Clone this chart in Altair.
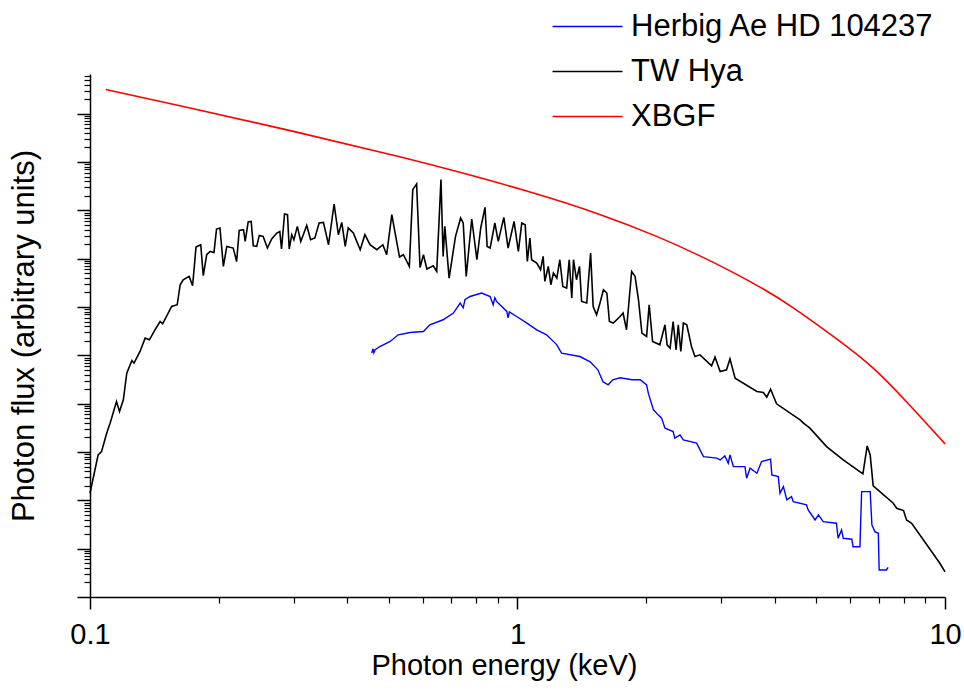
import altair as alt
import pandas as pd

# Spectra are tabulated as log10(photon energy / keV) and log10(photon flux, arbitrary units)

# TW Hya
tw_log_e = [
    -1.000, -0.981, -0.973, -0.961, -0.953, -0.938, -0.931, -0.922, -0.914, -0.902,
    -0.897, -0.883, -0.871, -0.861, -0.848, -0.836, -0.830, -0.809, -0.796, -0.789,
    -0.782, -0.768, -0.760, -0.752, -0.741, -0.735, -0.727, -0.719, -0.710, -0.704,
    -0.696, -0.688, -0.680, -0.665, -0.657, -0.651, -0.641, -0.637, -0.630, -0.623,
    -0.618, -0.610, -0.604, -0.595, -0.585, -0.575, -0.563, -0.556, -0.552, -0.545,
    -0.538, -0.534, -0.528, -0.523, -0.515, -0.507, -0.493, -0.484, -0.474, -0.464,
    -0.454, -0.442, -0.429, -0.419, -0.411, -0.403, -0.396, -0.384, -0.376, -0.368,
    -0.357, -0.345, -0.329, -0.315, -0.306, -0.294, -0.287, -0.276, -0.267, -0.253,
    -0.245, -0.236, -0.228, -0.220, -0.212, -0.197, -0.189, -0.179, -0.174, -0.170,
    -0.160, -0.145, -0.133, -0.127, -0.120, -0.107, -0.095, -0.086, -0.076, -0.071,
    -0.064, -0.053, -0.045, -0.032, -0.022, -0.008, 0.002, 0.010, 0.018, 0.023,
    0.029, 0.033, 0.045, 0.054, 0.060, 0.064, 0.072, 0.078, 0.084, 0.092,
    0.099, 0.106, 0.115, 0.121, 0.127, 0.131, 0.138, 0.145, 0.150, 0.162,
    0.171, 0.177, 0.185, 0.193, 0.201, 0.209, 0.215, 0.224, 0.240, 0.247,
    0.255, 0.267, 0.275, 0.283, 0.291, 0.302, 0.308, 0.316, 0.333, 0.345,
    0.350, 0.357, 0.364, 0.371, 0.376, 0.382, 0.388, 0.396, 0.407, 0.415,
    0.427, 0.454, 0.462, 0.474, 0.489, 0.497, 0.509, 0.560, 0.575, 0.583,
    0.592, 0.606, 0.661, 0.669, 0.684, 0.723, 0.762, 0.808, 0.818, 0.825,
    0.832, 0.879, 0.887, 0.903, 0.910, 0.922, 0.988, 1.000,
]
tw_log_f = [
    2.147, 2.940, 3.008, 3.389, 3.596, 4.043, 3.836, 4.079, 4.631, 4.892,
    4.838, 5.079, 5.356, 5.321, 5.528, 5.700, 5.652, 6.010, 6.046, 6.460,
    6.563, 6.632, 6.439, 7.240, 7.288, 6.646, 7.081, 7.149, 7.128, 7.613,
    7.634, 6.839, 7.253, 7.219, 6.942, 7.584, 7.598, 7.356, 7.758, 7.770,
    7.267, 7.253, 7.480, 7.460, 7.219, 7.406, 7.530, 7.563, 7.199, 7.923,
    7.909, 7.199, 7.495, 7.391, 7.667, 7.356, 7.687, 7.391, 7.427, 7.737,
    7.750, 7.288, 8.130, 7.495, 7.750, 7.253, 7.634, 7.530, 7.356, 7.184,
    7.495, 7.288, 7.184, 7.288, 7.081, 7.909, 7.563, 7.033, 7.081, 6.839,
    8.427, 8.545, 6.818, 7.081, 6.785, 6.853, 6.735, 8.634, 7.046, 7.667,
    6.598, 7.460, 7.841, 7.737, 6.632, 7.820, 6.977, 7.634, 8.060, 7.253,
    7.219, 7.737, 7.356, 7.853, 7.219, 7.770, 7.149, 7.737, 7.702, 6.942,
    7.427, 6.977, 6.909, 6.770, 7.046, 6.528, 6.839, 6.460, 6.702, 6.598,
    6.977, 6.424, 6.391, 6.977, 6.184, 6.977, 6.563, 6.839, 6.114, 6.081,
    7.116, 6.010, 5.839, 6.081, 6.356, 6.288, 5.700, 5.667, 5.803, 5.874,
    5.528, 6.735, 6.632, 6.149, 5.460, 5.389, 6.046, 5.286, 5.217, 5.631,
    5.217, 5.149, 5.700, 5.114, 5.631, 5.079, 5.667, 5.631, 5.182, 4.975,
    5.010, 4.783, 4.963, 4.665, 4.700, 4.928, 4.528, 4.251, 4.230, 4.135,
    4.300, 3.996, 3.665, 3.596, 3.493, 3.112, 2.836, 2.547, 3.126, 2.940,
    2.298, 1.940, 1.836, 1.787, 1.594, 1.526, 0.698, 0.518,
]

# Herbig Ae HD 104237
hb_log_e = [
    -0.341, -0.338, -0.336, -0.333, -0.322, -0.298, -0.279, -0.251, -0.220, -0.205,
    -0.174, -0.150, -0.134, -0.127, -0.123, -0.111, -0.084, -0.064, -0.057, -0.053,
    -0.049, -0.025, -0.022, -0.019, -0.002, 0.022, 0.045, 0.068, 0.092, 0.103,
    0.146, 0.170, 0.188, 0.200, 0.212, 0.223, 0.240, 0.268, 0.287, 0.302,
    0.306, 0.318, 0.329, 0.337, 0.345, 0.364, 0.368, 0.380, 0.388, 0.419,
    0.435, 0.466, 0.474, 0.485, 0.493, 0.497, 0.505, 0.532, 0.536, 0.544,
    0.560, 0.571, 0.592, 0.595, 0.610, 0.614, 0.622, 0.630, 0.641, 0.645,
    0.676, 0.680, 0.696, 0.704, 0.715, 0.746, 0.750, 0.758, 0.762, 0.782,
    0.785, 0.801, 0.805, 0.825, 0.829, 0.836, 0.844, 0.846, 0.863, 0.867,
]
hb_log_f = [
    5.046, 5.135, 5.052, 5.114, 5.182, 5.286, 5.424, 5.472, 5.493, 5.631,
    5.735, 5.874, 6.081, 5.983, 6.149, 6.217, 6.288, 6.217, 6.046, 6.190,
    6.114, 5.907, 5.776, 5.900, 5.803, 5.667, 5.528, 5.424, 5.217, 5.046,
    4.975, 4.865, 4.700, 4.451, 4.389, 4.493, 4.534, 4.493, 4.493, 4.389,
    4.217, 3.872, 3.768, 3.700, 3.493, 3.422, 3.286, 3.354, 3.251, 3.182,
    2.905, 2.872, 2.836, 2.919, 2.768, 2.940, 2.698, 2.698, 2.458, 2.665,
    2.561, 2.801, 2.851, 2.526, 2.491, 2.147, 2.284, 2.008, 2.077, 1.973,
    1.905, 1.801, 1.594, 1.698, 1.559, 1.526, 1.215, 1.387, 1.215, 1.195,
    1.041, 1.041, 2.180, 2.180, 1.491, 1.352, 1.319, 0.559, 0.559, 0.615,
]

# XBGF
xb_log_e = [-0.963, -0.789, -0.509, -0.247, -0.158, 0.029, 0.193, 0.333, 0.427,
            0.497, 0.567, 0.637, 0.750, 0.832, 0.910, 1.000]
xb_log_f = [10.497, 10.166, 9.607, 9.048, 8.841, 8.391, 7.930, 7.443, 7.060,
            6.750, 6.418, 6.046, 5.321, 4.768, 4.043, 3.168]

SERIES = ["Herbig Ae HD 104237", "TW Hya", "XBGF"]
COLORS = ["#0000ff", "#000000", "#ff0000"]

FONT = "Liberation Sans"


def frame(name, log_e, log_f):
    return pd.DataFrame({
        "energy": [10 ** v for v in log_e],
        "flux": [10 ** v for v in log_f],
        "series": name,
        "idx": list(range(len(log_e))),
    })


df_hb = frame(SERIES[0], hb_log_e, hb_log_f)
df_tw = frame(SERIES[1], tw_log_e, tw_log_f)
df_xb = frame(SERIES[2], xb_log_e, xb_log_f)

x_scale = alt.Scale(type="log", domain=[0.1, 10], nice=False)
y_scale = alt.Scale(type="log", domain=[1, 6.6e10], nice=False)

major_x = alt.Axis(
    orient="bottom", values=[0.1, 1, 10], format="~g", tickSize=12,
    tickWidth=1.5, tickColor="black", domainColor="black", domainWidth=1.5,
    labelFont=FONT, labelFontSize=29, labelColor="black", labelPadding=11,
    labelFlush=False, labelOverlap=False, grid=False,
    title="Photon energy (keV)", titleFont=FONT, titleFontSize=29,
    titleFontWeight="normal", titleColor="black", titlePadding=2, titleX=414,
)
major_y = alt.Axis(
    orient="left", values=[10 ** n for n in range(0, 11)], tickSize=13,
    tickWidth=1.5, tickColor="black", domainColor="black", domainWidth=1.5,
    labels=False, grid=False,
    title="Photon flux (arbitrary units)", titleFont=FONT, titleFontSize=31,
    titleFontWeight="normal", titleColor="black", titlePadding=36,
)

minor_x_vals = [k * 10.0 ** n for n in (-1, 0) for k in range(2, 10)]
minor_y_vals = [k * 10.0 ** n for n in range(0, 11) for k in range(2, 10)
                if k * 10.0 ** n <= 6.6e10]

minor_x = alt.Axis(orient="bottom", values=minor_x_vals, tickSize=6, tickWidth=1.2,
                   tickColor="black", labels=False, domain=False, grid=False, title=None)
minor_y = alt.Axis(orient="left", values=minor_y_vals, tickSize=6, tickWidth=1.2,
                   tickColor="black", labels=False, domain=False, grid=False, title=None)

color = alt.Color(
    "series:N",
    scale=alt.Scale(domain=SERIES, range=COLORS),
    legend=alt.Legend(
        orient="none", legendX=479, legendY=-66, title=None, padding=0,
        symbolType="M-2,0L2,0", symbolSize=1225, symbolStrokeWidth=1.4,
        labelFont=FONT, labelFontSize=31, labelColor="black", labelLimit=420,
        labelOffset=25, rowPadding=11,
    ),
)


def spectrum(df, interp, width):
    return alt.Chart(df).mark_line(strokeWidth=width, interpolate=interp).encode(
        x=alt.X("energy:Q", scale=x_scale, axis=major_x),
        y=alt.Y("flux:Q", scale=y_scale, axis=major_y),
        color=color,
        order="idx:Q",
    )


lines = alt.layer(
    spectrum(df_hb, "linear", 1.4),
    spectrum(df_tw, "linear", 1.6),
    spectrum(df_xb, "basis", 1.6),
)

minor = alt.Chart(df_xb).mark_line(strokeOpacity=0).encode(
    x=alt.X("energy:Q", scale=x_scale, axis=minor_x),
    y=alt.Y("flux:Q", scale=y_scale, axis=minor_y),
)

chart = (
    alt.layer(lines, minor)
    .resolve_scale(x="shared", y="shared")
    .resolve_axis(x="independent", y="independent")
    .properties(
        width=855, height=523,
        autosize=alt.AutoSizeParams(type="none"),
        padding={"left": 90, "top": 74, "right": 19, "bottom": 93},
        background="white",
    )
    .configure_view(stroke=None)
)

chart.save("out.html", embed_options={"renderer": "svg", "actions": False})
